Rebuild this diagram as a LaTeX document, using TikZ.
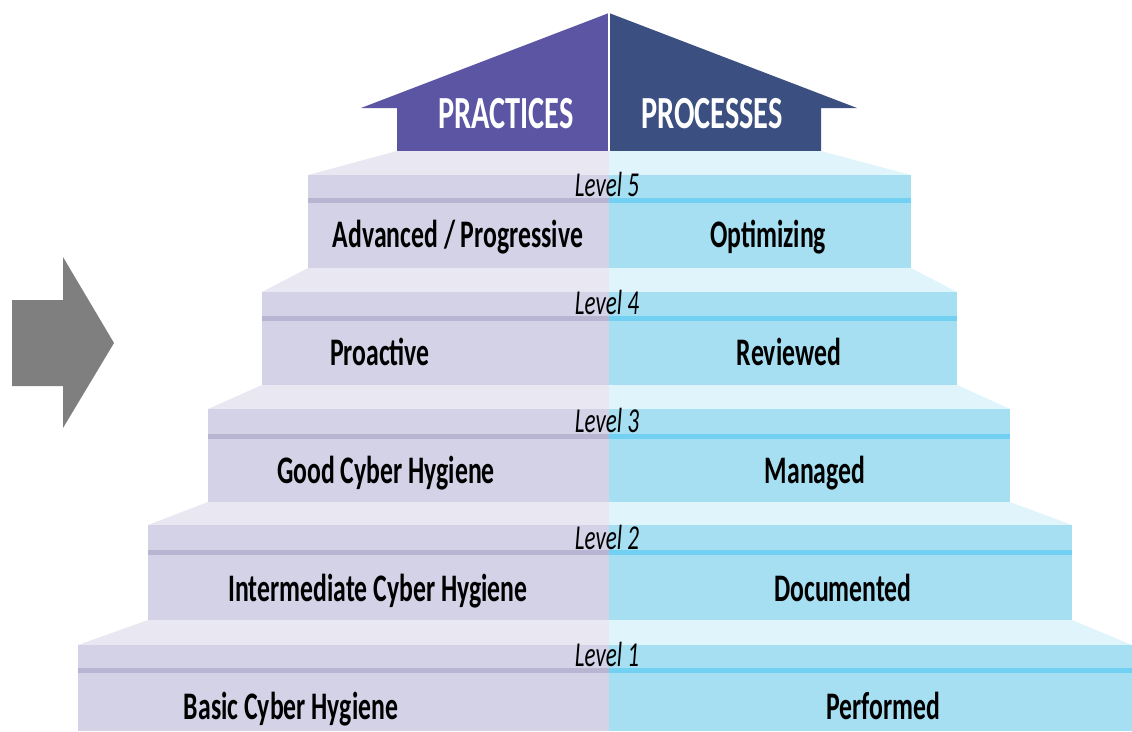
\documentclass[tikz,border=0pt]{standalone}
\usepackage{fontspec}
\newfontfamily\stepfont[FakeStretch=0.66]{Carlito}
\definecolor{pracface}{HTML}{D3D2E7}
\definecolor{practread}{HTML}{E8E7F2}
\definecolor{pracline}{HTML}{B8B5D3}
\definecolor{procface}{HTML}{A6DFF2}
\definecolor{proctread}{HTML}{E0F4FB}
\definecolor{procline}{HTML}{72D0F2}
\definecolor{pracarrow}{HTML}{5B55A3}
\definecolor{procarrow}{HTML}{3B5080}
\definecolor{grayarrow}{HTML}{7F7F7F}
\tikzset{
  stepname/.style={font=\stepfont\bfseries\fontsize{39}{39}\selectfont, anchor=base, inner sep=0pt},
  levelname/.style={font=\stepfont\itshape\fontsize{35}{35}\selectfont, anchor=base, inner sep=0pt},
  headname/.style={font=\stepfont\bfseries\fontsize{46}{46}\selectfont, text=white, anchor=base, inner sep=0pt}
}
\begin{document}
\begin{tikzpicture}[x=1pt,y=-1pt]
                \useasboundingbox (0,0) rectangle (1132,731);
                \fill[grayarrow] (12,300) -- (63,300) -- (63,257) -- (114,343) -- (63,428) -- (63,386) -- (12,386) -- cycle;
                \fill[pracarrow] (609,13) -- (361,108) -- (397,108) -- (397,151) -- (609,151) -- cycle;
                \fill[procarrow] (609,13) -- (857,108) -- (821,108) -- (821,151) -- (609,151) -- cycle;
                \draw[white, line width=1.5pt] (609,13) -- (609,151);
                \node[headname] (practices) at (506,128) {PRACTICES};
                \node[headname] (processes) at (712,128) {PROCESSES};
                \fill[practread] (397,151) -- (609,151) -- (609,175) -- (308,175) -- cycle;
                \fill[proctread] (821,151) -- (609,151) -- (609,175) -- (911,175) -- cycle;
                \fill[pracface] (308,175) rectangle (609,268);
                \fill[procface] (609,175) rectangle (911,268);
                \fill[pracline] (308,198) rectangle (609,203);
                \fill[procline] (609,198) rectangle (911,203);
                \fill[practread] (308,268) -- (609,268) -- (609,292) -- (262,292) -- cycle;
                \fill[proctread] (911,268) -- (609,268) -- (609,292) -- (957,292) -- cycle;
                \fill[pracface] (262,292) rectangle (609,385);
                \fill[procface] (609,292) rectangle (957,385);
                \fill[pracline] (262,316) rectangle (609,321);
                \fill[procline] (609,316) rectangle (957,321);
                \fill[practread] (262,385) -- (609,385) -- (609,409) -- (208,409) -- cycle;
                \fill[proctread] (957,385) -- (609,385) -- (609,409) -- (1010,409) -- cycle;
                \fill[pracface] (208,409) rectangle (609,502);
                \fill[procface] (609,409) rectangle (1010,502);
                \fill[pracline] (208,434) rectangle (609,439);
                \fill[procline] (609,434) rectangle (1010,439);
                \fill[practread] (208,502) -- (609,502) -- (609,525) -- (148,525) -- cycle;
                \fill[proctread] (1010,502) -- (609,502) -- (609,525) -- (1072,525) -- cycle;
                \fill[pracface] (148,525) rectangle (609,620);
                \fill[procface] (609,525) rectangle (1072,620);
                \fill[pracline] (148,550) rectangle (609,555);
                \fill[procline] (609,550) rectangle (1072,555);
                \fill[practread] (148,620) -- (609,620) -- (609,645) -- (78,645) -- cycle;
                \fill[proctread] (1072,620) -- (609,620) -- (609,645) -- (1132,645) -- cycle;
                \fill[pracface] (78,645) rectangle (609,731);
                \fill[procface] (609,645) rectangle (1132,731);
                \fill[pracline] (78,668) rectangle (609,673);
                \fill[procline] (609,668) rectangle (1132,673);
                \node[levelname] (lvl5) at (607,196) {Level 5};
                \node[levelname] (lvl4) at (607,314) {Level 4};
                \node[levelname] (lvl3) at (607,432) {Level 3};
                \node[levelname] (lvl2) at (607,549) {Level 2};
                \node[levelname] (lvl1) at (607,666) {Level 1};
                \node[stepname] (prac5) at (458,247) {Advanced / Progressive};
                \node[stepname] (prac4) at (380,365) {Proactive};
                \node[stepname] (prac3) at (386,483) {Good Cyber Hygiene};
                \node[stepname] (prac2) at (378,601) {Intermediate Cyber Hygiene};
                \node[stepname] (prac1) at (291,719) {Basic Cyber Hygiene};
                \node[stepname] (proc5) at (768,247) {Optimizing};
                \node[stepname] (proc4) at (789,365) {Reviewed};
                \node[stepname] (proc3) at (815,483) {Managed};
                \node[stepname] (proc2) at (843,601) {Documented};
                \node[stepname] (proc1) at (883,719) {Performed};
            \end{tikzpicture}
\end{document}
